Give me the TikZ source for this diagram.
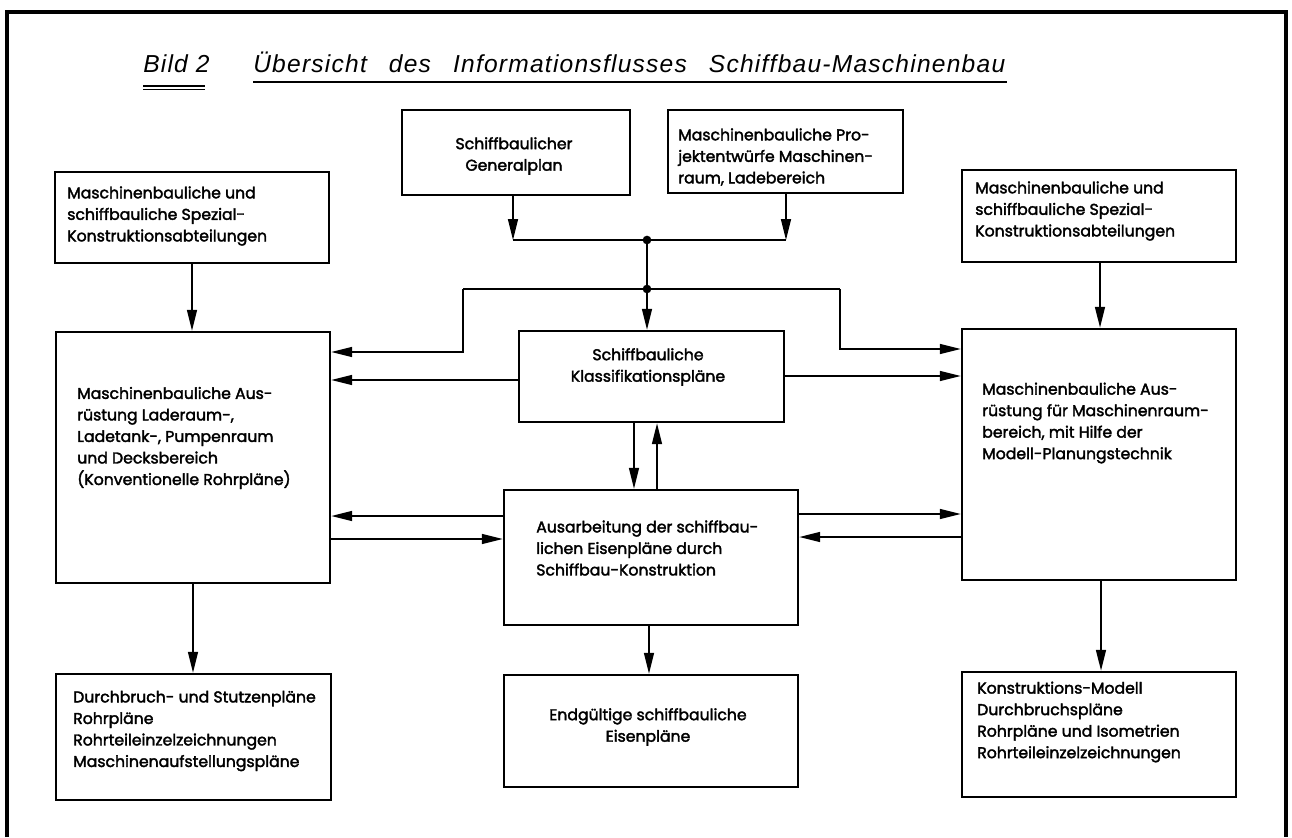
\documentclass[tikz,border=0pt]{standalone}
\usepackage{fontspec}
\setmainfont{Poppins}[FakeBold=2.2]
\newfontfamily\titlefont[LetterSpace=5]{Liberation Sans}
\usetikzlibrary{arrows.meta,fit}
\begin{document}
\begin{tikzpicture}[x=0.0264583cm,y=-0.0264583cm,
  box/.style={draw, line width=1.9pt, inner sep=0pt},
  txt/.style={inner sep=0pt, font=\fontsize{11.8}{16.2}\selectfont, align=left, anchor=west},
  ctxt/.style={txt, align=center, anchor=center},
  link/.style={line width=1.3pt},
  arr/.style={link, -{Triangle[length=5.5mm,width=2.6mm]}},
  dot/.style={circle, fill, inner sep=0pt, minimum size=2.3mm},
  ttl/.style={inner sep=0pt, anchor=base west, font=\titlefont\itshape\fontsize{18.5}{22}\selectfont},
  uline/.style={line width=1.3pt}]
\useasboundingbox (0,0) rectangle (1292,837);

% outer frame, open at the bottom
\draw[line width=2.3pt] (7,837) -- (7,12) -- (1286,12) -- (1286,837);

% heading
\node[ttl] (bild) at (143,72) {Bild 2};
\node[ttl] (head) at (253,72) {\makebox[19.897cm][s]{Übersicht\hfill des\hfill Informationsflusses\hfill Schiffbau-Maschinenbau}};
\draw[uline] (143,86) -- (205,86);
\draw[line width=0.8pt] (143,89.5) -- (205,89.5);
\draw[uline] (253,82) -- (1007,82);

% boxes
\node[box, fit={(402,110)(630,195)}] (gp) {};
\node[box, fit={(668,110)(903,193)}] (mp) {};
\node[box, fit={(55,172)(329,263)}] (lt) {};
\node[box, fit={(962,170)(1236,262)}] (rt) {};
\node[box, fit={(56,332)(330,583)}] (lb) {};
\node[box, fit={(962,329)(1236,580)}] (rb) {};
\node[box, fit={(519,331)(784,422)}] (kp) {};
\node[box, fit={(504,490)(798,625)}] (ae) {};
\node[box, fit={(504,675)(798,787)}] (ep) {};
\node[box, fit={(56,674)(331,800)}] (lbb) {};
\node[box, fit={(962,672)(1236,797)}] (rbb) {};

% box texts
\node[ctxt] (gp-t) at (514,156) {Schiffbaulicher\\Generalplan};
\node[txt] (mp-t) at (678,157) {Maschinenbauliche Pro-\\jektentwürfe Maschinen-\\raum, Ladebereich};
\node[txt] (lt-t) at (67,216) {Maschinenbauliche und\\schiffbauliche Spezial-\\Konstruktionsabteilungen};
\node[txt] (rt-t) at (975,211) {Maschinenbauliche und\\schiffbauliche Spezial-\\Konstruktionsabteilungen};
\node[ctxt] (kp-t) at (648,367) {Schiffbauliche\\Klassifikationspläne};
\node[txt] (lb-t) at (77,438) {Maschinenbauliche Aus-\\rüstung Laderaum-,\\Ladetank-, Pumpenraum\\und Decksbereich\\(Konventionelle Rohrpläne)};
\node[txt] (rb-t) at (982,423) {Maschinenbauliche Aus-\\rüstung für Maschinenraum-\\bereich, mit Hilfe der\\Modell-Planungstechnik};
\node[txt] (ae-t) at (536,548) {Ausarbeitung der schiffbau-\\lichen Eisenpläne durch\\Schiffbau-Konstruktion};
\node[ctxt] (ep-t) at (648,727) {Endgültige schiffbauliche\\Eisenpläne};
\node[txt] (lbb-t) at (73,731) {Durchbruch- und Stutzenpläne\\Rohrpläne\\Rohrteileinzelzeichnungen\\Maschinenaufstellungspläne};
\node[txt] (rbb-t) at (977,722) {Konstruktions-Modell\\Durchbruchspläne\\Rohrpläne und Isometrien\\Rohrteileinzelzeichnungen};

% junctions of the collecting line
\coordinate (ga) at (513,240);
\coordinate (ma) at (786,240);
\node[dot] (j1) at (647,240) {};
\node[dot] (j2) at (647,289) {};
\coordinate (sl) at (463,289);
\coordinate (sr) at (840,289);

% top inputs joined and distributed
\draw[arr] (gp.south -| ga) -- (ga);
\draw[arr] (mp.south -| ma) -- (ma);
\draw[link] (ga) -- (ma);
\draw[link] (j1.center) -- (j2.center);
\draw[arr] (j2.center) -- (j2 |- kp.north);
\draw[link] (sl) -- (sr);
\draw[arr] (sl) |- (lb.east |- 0,352);
\draw[arr] (sr) |- (rb.west |- 0,349);

% classification plans to both sides and to the steel plans
\draw[arr] (kp.west |- 0,380) -- (lb.east |- 0,380);
\draw[arr] (kp.east |- 0,376) -- (rb.west |- 0,376);
\draw[arr] (kp.south -| 634,0) -- (ae.north -| 634,0);
\draw[arr] (ae.north -| 657,0) -- (kp.south -| 657,0);

% exchange with the steel plans
\draw[arr] (ae.west |- 0,516) -- (lb.east |- 0,516);
\draw[arr] (lb.east |- 0,539) -- (ae.west |- 0,539);
\draw[arr] (ae.east |- 0,514) -- (rb.west |- 0,514);
\draw[arr] (rb.west |- 0,537) -- (ae.east |- 0,537);

% vertical flows
\draw[arr] (lt.south -| 192,0) -- (lb.north -| 192,0);
\draw[arr] (rt.south -| 1100,0) -- (rb.north -| 1100,0);
\draw[arr] (lb.south -| 193,0) -- (lbb.north -| 193,0);
\draw[arr] (rb.south -| 1101,0) -- (rbb.north -| 1101,0);
\draw[arr] (ae.south -| 649,0) -- (ep.north -| 649,0);
\end{tikzpicture}
\end{document}
